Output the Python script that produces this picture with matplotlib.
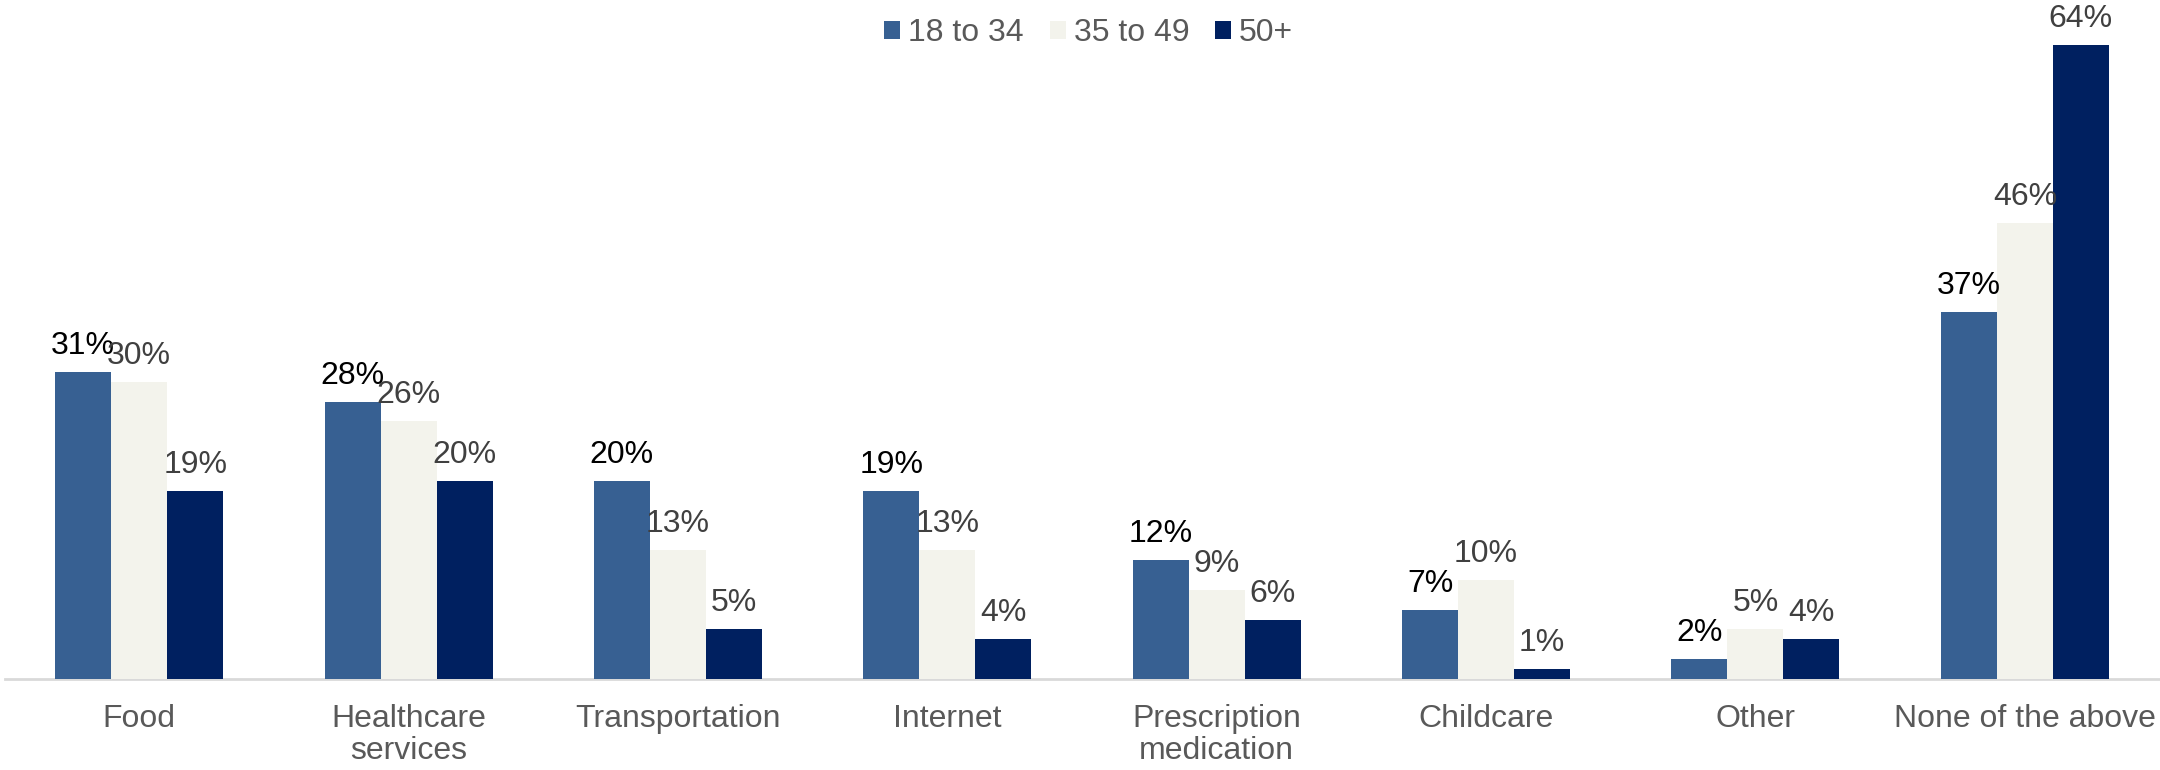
import matplotlib.pyplot as plt
import numpy as np
from matplotlib.patches import Patch

plt.rcParams["font.family"] = ["Liberation Sans", "DejaVu Sans"]

categories = [
    "Food",
    "Healthcare\nservices",
    "Transportation",
    "Internet",
    "Prescription\nmedication",
    "Childcare",
    "Other",
    "None of the above",
]
series_names = ["18 to 34", "35 to 49", "50+"]
age_18_34 = [31, 28, 20, 19, 12, 7, 2, 37]
age_35_49 = [30, 26, 13, 13, 9, 10, 5, 46]
age_50_plus = [19, 20, 5, 4, 6, 1, 4, 64]

colors = ["#376092", "#F3F3EC", "#002060"]
label_colors = ["#000000", "#404040", "#404040"]
FS = 23

fig = plt.figure(figsize=(21.6, 7.7), dpi=100)
ax = fig.add_axes([4.5 / 2160, 91 / 770, 2155 / 2160, 673.6 / 770])

x = np.arange(len(categories))
width = 0.208
for j, (vals, name) in enumerate(zip([age_18_34, age_35_49, age_50_plus], series_names)):
    pos = x + (j - 1) * width
    bars = ax.bar(pos, vals, width, color=colors[j], label=name, linewidth=0, zorder=2)
    for rect, v in zip(bars, vals):
        ax.annotate(
            f"{v}%",
            (rect.get_x() + rect.get_width() / 2, rect.get_height()),
            xytext=(0, 13),
            textcoords="offset points",
            ha="center",
            va="baseline",
            fontsize=FS,
            color=label_colors[j],
            zorder=3,
        )

ax.set_xlim(-0.5, len(categories) - 0.5)
ax.set_ylim(0, 68)
ax.set_xticks(x)
ax.set_xticklabels(categories, fontsize=FS, color="#595959", linespacing=1.1)
ax.tick_params(axis="x", length=0, pad=18)
ax.set_yticks([])
for side in ["top", "right", "left"]:
    ax.spines[side].set_visible(False)
ax.spines["bottom"].set_color("#D9D9D9")
ax.spines["bottom"].set_linewidth(2)
ax.spines["bottom"].set_zorder(1)

handles = [Patch(facecolor=c, edgecolor="none") for c in colors]
fig.legend(
    handles,
    series_names,
    loc="upper center",
    bbox_to_anchor=(0.504, 1.014),
    ncol=3,
    frameon=False,
    fontsize=FS,
    labelcolor="#595959",
    handlelength=0.5,
    handleheight=0.5,
    handletextpad=0.25,
    columnspacing=0.8,
)

fig.savefig("out.png", dpi=100)
